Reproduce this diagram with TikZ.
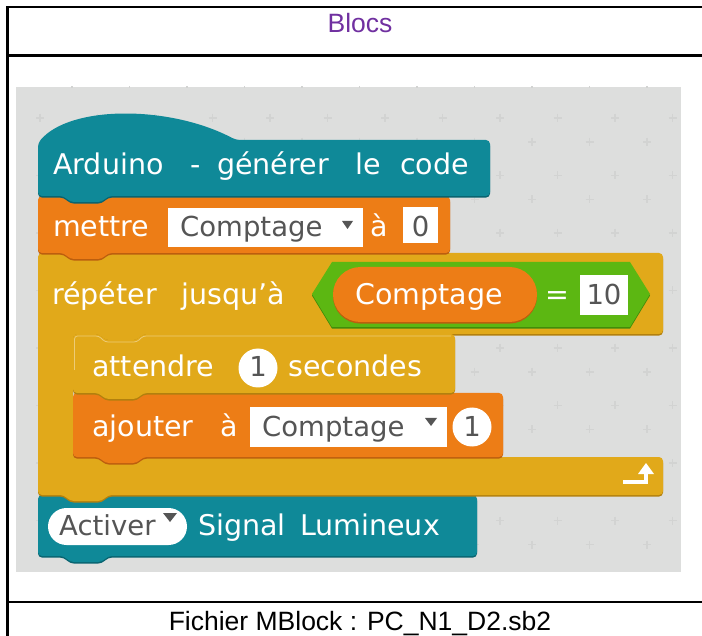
\documentclass[tikz,border=0pt]{standalone}
\usepackage{fontspec}
\setmainfont{Liberation Sans}
\newfontfamily\blkfont{DejaVu Sans}
\definecolor{tealc}{RGB}{15,137,152}
\definecolor{tealcsh}{RGB}{9,100,112}
\definecolor{orgc}{RGB}{237,125,22}
\definecolor{orgcsh}{RGB}{188,94,14}
\definecolor{goldc}{RGB}{225,169,26}
\definecolor{goldcsh}{RGB}{178,128,14}
\definecolor{grnc}{RGB}{92,183,18}
\definecolor{grncsh}{RGB}{66,140,10}
\definecolor{wsbg}{RGB}{221,222,221}
\definecolor{wscross}{RGB}{210,211,210}
\definecolor{fieldtxt}{RGB}{85,85,85}
\definecolor{titlec}{RGB}{112,48,160}

% stack block: colour, x0, y0, x1, y1 (top notch and bottom tab on the left)
\newcommand\stk[5]{%
  \foreach \c/\s in {#1sh/-1.6pt,#1/0pt}
    \fill[\c, yshift=\s, rounded corners=4]
      (#2,#3) -- ({#2+26},#3) -- ({#2+32},{#3+6}) -- ({#2+64},{#3+6}) -- ({#2+70},#3)
      -- (#4,#3) -- (#4,#5) -- ({#2+70},#5) -- ({#2+64},{#5+6}) -- ({#2+32},{#5+6})
      -- ({#2+26},#5) -- (#2,#5) -- cycle;
}

\begin{document}
\begin{tikzpicture}[x=1pt,y=-1pt,
  blk/.style={font=\blkfont\fontsize{28.5}{34}\selectfont, text=white, inner sep=0pt, anchor=base west},
  fld/.style={font=\blkfont\fontsize{27.5}{33}\selectfont, text=fieldtxt, inner sep=0pt, anchor=base west},
  fldc/.style={fld, anchor=base},
  cell/.style={font=\fontsize{26.5}{32}\selectfont, inner sep=0pt, anchor=base},
  rule/.style={line width=2.2pt, black},
  cross/.style={wscross, line width=1.1pt}]
\useasboundingbox (0,0) rectangle (702,636);

% table frame
\draw[rule] (702,7) -- (7.5,7) -- (7.5,636);
\draw[rule] (7.5,55.5) -- (702,55.5);
\draw[rule] (7.5,602) -- (702,602);
\node[cell, text=titlec] (title) at (360,32.5) {Blocs};
\node[cell] (file) at (360,630) {Fichier MBlock : PC\_N1\_D2.sb2};

% workspace with its faint grid of crosses
\fill[wsbg] (16,87) rectangle (681,572);
\begin{scope}
  \clip (16,87) rectangle (681,572);
  \foreach \i in {-8,...,3} \foreach \j in {0,...,8}
    \draw[cross] ({500+57.5*\i-4},{118+57.5*\j}) -- ++(8,0) ({500+57.5*\i},{118+57.5*\j-4}) -- ++(0,8);
  \foreach \i in {-8,...,2} \foreach \j in {-1,...,7}
    \draw[cross] ({532+57.5*\i-4},{142+57.5*\j}) -- ++(8,0) ({532+57.5*\i},{142+57.5*\j-4}) -- ++(0,8);
\end{scope}

% "Activer Signal Lumineux"
\stk{tealc}{38}{495}{477}{556}
\fill[white, rounded corners=18.5] (48,508) rectangle (187,545);
\node[fld] (act) at (59,535) {Activer};
\fill[fieldtxt] (163,513) -- (177,513) -- (170,522) -- cycle;
\node[blk] (sig) at (198,535) {Signal};
\node[blk] (lum) at (300,535) {Lumineux};

% "répéter jusqu'à" C block
\foreach \c/\s in {goldcsh/-1.6pt,goldc/0pt}
  \fill[\c, yshift=\s, rounded corners=4]
    (38,253) -- (64,253) -- (70,259) -- (102,259) -- (108,253) -- (663,253)
    -- (663,334) -- (143,334) -- (137,340) -- (105,340) -- (99,334) -- (73,334)
    -- (73,457) -- (663,457) -- (663,495) -- (108,495) -- (102,501) -- (70,501)
    -- (64,495) -- (38,495) -- cycle;
\draw[white, line width=3.5pt] (623,482) -- (646,482) -- (646,472);
\fill[white] (638,474) -- (654,474) -- (646,463) -- cycle;

% "ajouter à Comptage 1"
\stk{orgc}{73}{393}{503}{457}
\node[blk] (ajo) at (92,437) {ajouter};
\node[blk] (aja) at (220,437) {à};
\fill[white] (250,407) rectangle (447,447);
\node[fld] (ajv) at (262,437) {Comptage};
\fill[fieldtxt] (425,418) -- (437,418) -- (431,426) -- cycle;
\fill[white] (472,427) circle (19.5);
\node[fldc] (ajn) at (472,437) {1};

% "attendre 1 secondes", with the light rim along its top edge
\stk{goldc}{73}{334}{455}{393}
\draw[goldc!60!white, line width=0.8pt, rounded corners=3]
  (74.5,370) -- (74.5,336) -- (99,336) -- (105,342) -- (137,342) -- (143,336) -- (451,336);
\node[blk] (att) at (92,377) {attendre};
\fill[white] (258,368) circle (19.5);
\node[fldc] (attn) at (258,377) {1};
\node[blk] (sec) at (288,377) {secondes};

% loop condition
\node[blk] (rep) at (52,305) {répéter};
\node[blk] (jus) at (181,305) {jusqu’à};
\foreach \c/\s in {grncsh/-1.6pt,grnc/0pt}
  \fill[\c, yshift=\s] (312,294) -- (332,262) -- (630,262) -- (650,294) -- (630,327) -- (332,327) -- cycle;
\fill[orgcsh, rounded corners=27.5, yshift=-1.6pt] (333,267) rectangle (537,322);
\fill[orgc, rounded corners=27.5] (333,267) rectangle (537,322);
\node[blk] (var) at (355,305) {Comptage};
\node[blk, anchor=base] (eq) at (557,305) {=};
\fill[white] (580,275) rectangle (628,315);
\node[fldc] (ten) at (604,305) {10};

% "mettre Comptage à 0"
\stk{orgc}{38}{196}{450}{253}
\node[blk] (met) at (53,237) {mettre};
\fill[white] (168,208) rectangle (363,247);
\node[fld] (metv) at (180,237) {Comptage};
\fill[fieldtxt] (342,221) -- (353,221) -- (347.5,229) -- cycle;
\node[blk] (meta) at (370,237) {à};
\fill[white] (403,207) rectangle (438,243);
\node[fldc] (metn) at (420.5,237) {0};

% hat block
\foreach \c/\s in {tealcsh/-1.6pt,tealc/0pt}
  \fill[\c, yshift=\s, rounded corners=4]
    (38,196) -- (38,143) .. controls (70,105) and (170,105) .. (236,140)
    -- (490,140) -- (490,196) -- (108,196) -- (102,202) -- (70,202) -- (64,196) -- cycle;
\node[blk] (ard) at (53,175) {Arduino};
\node[blk] (dash) at (190,175) {-};
\node[blk] (gen) at (217,175) {générer};
\node[blk] (le) at (355,175) {le};
\node[blk] (code) at (400,175) {code};
\end{tikzpicture}
\end{document}
